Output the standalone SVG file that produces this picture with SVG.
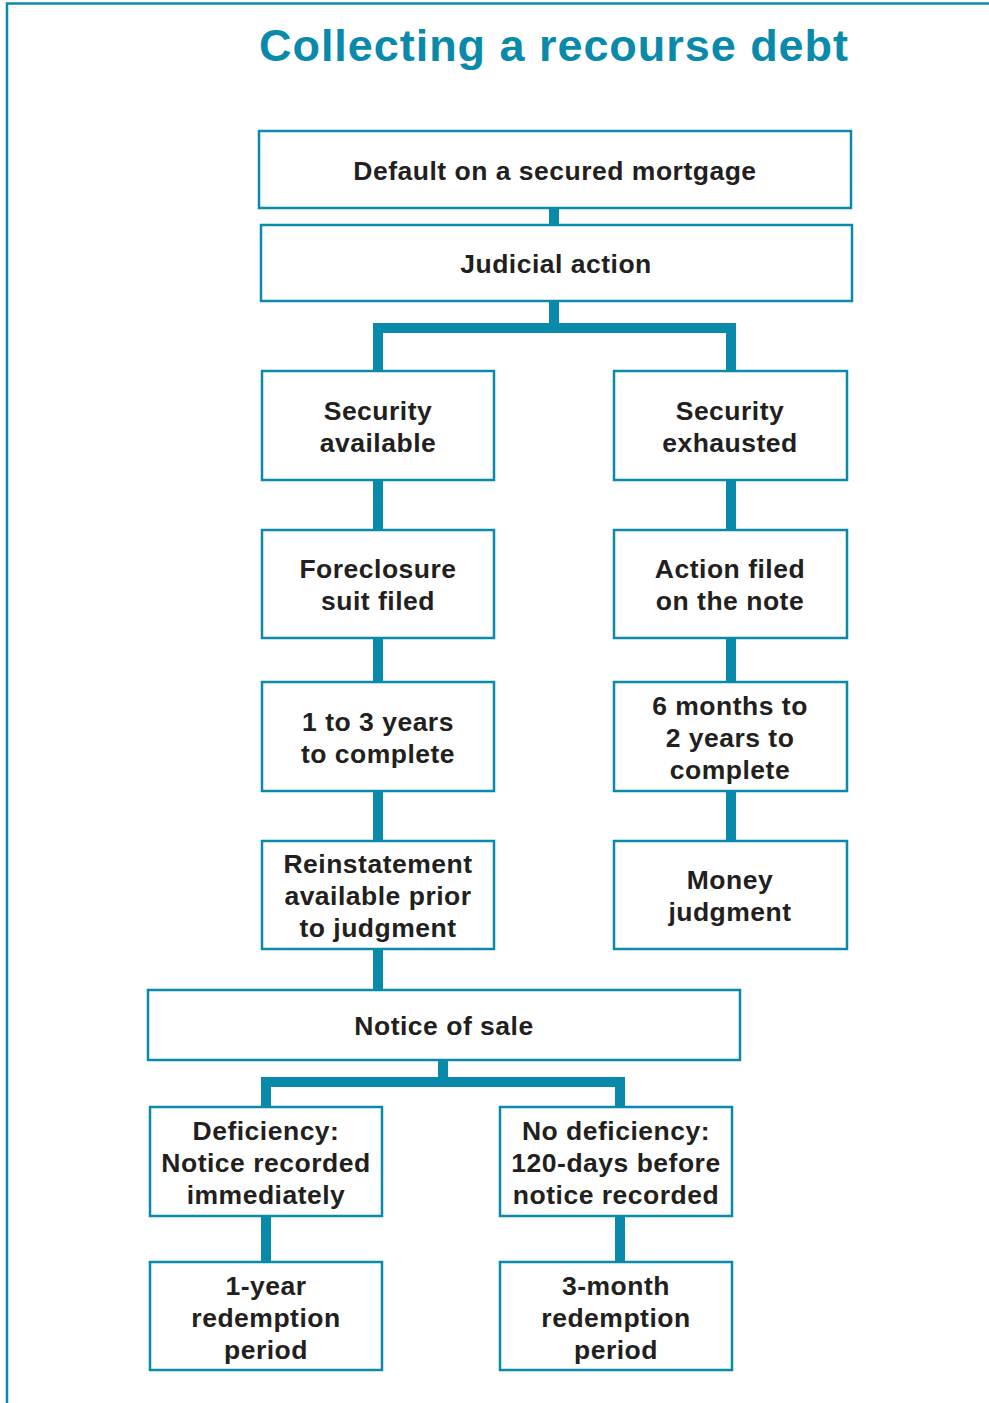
<svg xmlns="http://www.w3.org/2000/svg" width="989" height="1403" viewBox="0 0 989 1403">
<style>
.box{fill:#fff;stroke:#0a8aab;stroke-width:2.5}
.t{font-family:"Liberation Sans",Arial,sans-serif;font-weight:bold;font-size:26.5px;letter-spacing:0.5px;fill:#231f20;text-anchor:middle}
.c{fill:none;stroke:#0a8aab;stroke-width:10;stroke-linejoin:miter}
.frame{fill:none;stroke:#0a8aab;stroke-width:2.5}
</style>
<rect width="989" height="1403" fill="#fff"/>
<path class="frame" d="M7 1403 V3.5 H989"/>
<text x="553.5" y="61" font-family="'Liberation Sans',Arial,sans-serif" font-weight="bold" font-size="45" fill="#0a8aab" text-anchor="middle" textLength="589" lengthAdjust="spacing">Collecting a recourse debt</text>
<g id="connectors">
<path class="c" d="M554 208 V225"/>
<path class="c" d="M554 301 V328"/>
<path class="c" d="M378 371 V328 H731 V371"/>
<path class="c" d="M378 480 V530"/>
<path class="c" d="M731 480 V530"/>
<path class="c" d="M378 638 V682"/>
<path class="c" d="M731 638 V682"/>
<path class="c" d="M378 791 V841"/>
<path class="c" d="M731 791 V841"/>
<path class="c" d="M378 949 V990"/>
<path class="c" d="M443 1060 V1082"/>
<path class="c" d="M266 1107 V1082 H620 V1107"/>
<path class="c" d="M266 1216 V1262"/>
<path class="c" d="M620 1216 V1262"/>
</g>
<g id="default"><rect class="box" x="259" y="131" width="592" height="77"/><text class="t" x="555" y="180">Default on a secured mortgage</text></g>
<g id="judicial"><rect class="box" x="261" y="225" width="591" height="76"/><text class="t" x="556" y="273">Judicial action</text></g>
<g id="sec-avail"><rect class="box" x="262" y="371" width="232" height="109"/><text class="t" x="378" y="420">Security</text><text class="t" x="378" y="452">available</text></g>
<g id="sec-exh"><rect class="box" x="614" y="371" width="233" height="109"/><text class="t" x="730" y="420">Security</text><text class="t" x="730" y="452">exhausted</text></g>
<g id="foreclosure"><rect class="box" x="262" y="530" width="232" height="108"/><text class="t" x="378" y="578">Foreclosure</text><text class="t" x="378" y="610">suit filed</text></g>
<g id="action-note"><rect class="box" x="614" y="530" width="233" height="108"/><text class="t" x="730" y="578">Action filed</text><text class="t" x="730" y="610">on the note</text></g>
<g id="one-three"><rect class="box" x="262" y="682" width="232" height="109"/><text class="t" x="378" y="731">1 to 3 years</text><text class="t" x="378" y="763">to complete</text></g>
<g id="six-months"><rect class="box" x="614" y="682" width="233" height="109"/><text class="t" x="730" y="715">6 months to</text><text class="t" x="730" y="747">2 years to</text><text class="t" x="730" y="779">complete</text></g>
<g id="reinstatement"><rect class="box" x="262" y="841" width="232" height="108"/><text class="t" x="378" y="873">Reinstatement</text><text class="t" x="378" y="905">available prior</text><text class="t" x="378" y="937">to judgment</text></g>
<g id="money"><rect class="box" x="614" y="841" width="233" height="108"/><text class="t" x="730" y="889">Money</text><text class="t" x="730" y="921">judgment</text></g>
<g id="notice"><rect class="box" x="148" y="990" width="592" height="70"/><text class="t" x="444" y="1035">Notice of sale</text></g>
<g id="deficiency"><rect class="box" x="150" y="1107" width="232" height="109"/><text class="t" x="266" y="1140">Deficiency:</text><text class="t" x="266" y="1172">Notice recorded</text><text class="t" x="266" y="1204">immediately</text></g>
<g id="no-deficiency"><rect class="box" x="500" y="1107" width="232" height="109"/><text class="t" x="616" y="1140">No deficiency:</text><text class="t" x="616" y="1172">120-days before</text><text class="t" x="616" y="1204">notice recorded</text></g>
<g id="one-year"><rect class="box" x="150" y="1262" width="232" height="108"/><text class="t" x="266" y="1295">1-year</text><text class="t" x="266" y="1327">redemption</text><text class="t" x="266" y="1359">period</text></g>
<g id="three-month"><rect class="box" x="500" y="1262" width="232" height="108"/><text class="t" x="616" y="1295">3-month</text><text class="t" x="616" y="1327">redemption</text><text class="t" x="616" y="1359">period</text></g>
</svg>
